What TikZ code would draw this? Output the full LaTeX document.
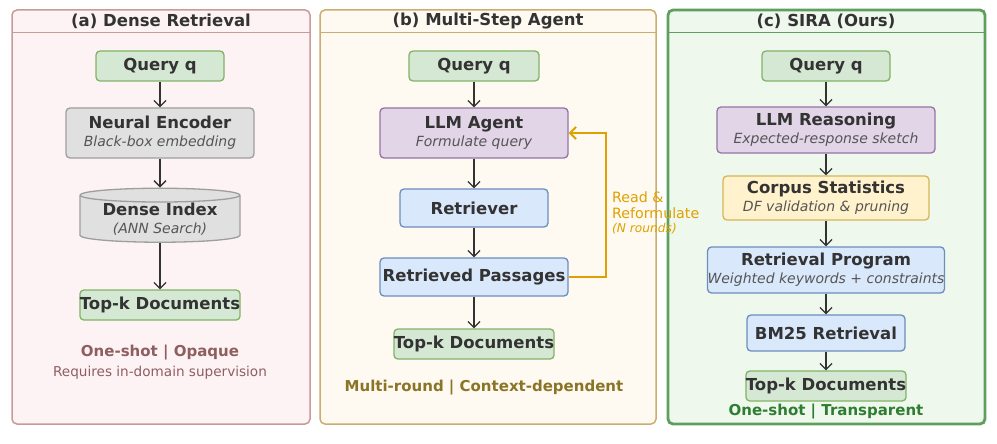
\documentclass[tikz,border=0pt]{standalone}
\usepackage{fontspec}
\setmainfont{DejaVu Sans}
\usetikzlibrary{shapes.geometric,arrows.meta}
\definecolor{gF}{HTML}{D5E8D4}\definecolor{gB}{HTML}{82B366}
\definecolor{kF}{HTML}{E0E0E0}\definecolor{kB}{HTML}{9E9E9E}
\definecolor{pF}{HTML}{E1D5E7}\definecolor{pB}{HTML}{9673A6}
\definecolor{bF}{HTML}{DAE8FC}\definecolor{bB}{HTML}{6C8EBF}
\definecolor{yF}{HTML}{FFF2CC}\definecolor{yB}{HTML}{D6B656}
\definecolor{aF}{HTML}{FDF3F4}\definecolor{aB}{HTML}{C99A9A}\definecolor{aT}{HTML}{8E5E60}
\definecolor{cbF}{HTML}{FEF9F1}\definecolor{cbB}{HTML}{CBAE6E}\definecolor{bT}{HTML}{8A7426}
\definecolor{ccF}{HTML}{EEF8EC}\definecolor{ccB}{HTML}{5E9E5E}\definecolor{cT}{HTML}{2E7D32}
\definecolor{orn}{HTML}{E0A000}\definecolor{txt}{HTML}{333333}\definecolor{sub}{HTML}{555555}
\tikzset{
 bx/.style={draw, rounded corners=4pt, line width=1.3pt, align=center, text=txt, inner sep=0pt, font=\fontsize{16.5}{18}\selectfont\bfseries},
 G/.style={bx, fill=gF, draw=gB}, K/.style={bx, fill=kF, draw=kB},
 P/.style={bx, fill=pF, draw=pB}, B/.style={bx, fill=bF, draw=bB}, Y/.style={bx, fill=yF, draw=yB},
 ar/.style={-{Straight Barb[length=6pt,width=12pt]}, line width=1.3pt, draw=txt},
 ttl/.style={font=\fontsize{16.5}{18}\selectfont\bfseries, text=txt},
}
\newcommand{\sbt}[1]{\\[0pt]{\fontsize{14}{16}\selectfont\mdseries\itshape\color{sub}#1}}
\begin{document}
\begin{tikzpicture}[x=1pt,y=-1pt]
\useasboundingbox (0,0) rectangle (997,444);
% panels
\draw[aB, fill=aF, line width=1.5pt, rounded corners=5pt] (12,10) rectangle (310,424);
\draw[aB, line width=1pt] (12,33) -- (310,33);
\node[ttl] (ta) at (161,21) {(a) Dense Retrieval};
\draw[cbB, fill=cbF, line width=1.5pt, rounded corners=5pt] (320,10) rectangle (656,424);
\draw[cbB, line width=1pt] (320,33) -- (656,33);
\node[ttl] (tb) at (488,21) {(b) Multi-Step Agent};
\draw[ccB, fill=ccF, line width=2.8pt, rounded corners=5pt] (668,10) rectangle (985,424);
\draw[ccB, line width=1pt] (668,33) -- (985,33);
\node[ttl] (tc) at (826,21) {(c) SIRA (Ours)};
% (a)
\node[G, minimum width=128, minimum height=30] (qa) at (160,66) {Query q};
\node[K, minimum width=188, minimum height=50] (ne) at (160,133) {Neural Encoder\sbt{Black-box embedding}};
\node[cylinder, shape border rotate=90, aspect=0.12, draw=kB, fill=kF, line width=1.3pt, minimum width=160, minimum height=54, inner sep=0pt, align=center, text=txt, font=\fontsize{16.5}{18}\selectfont\bfseries] (di) at (160,219) {Dense Index\sbt{(ANN Search)}};
\node[G, minimum width=158, minimum height=30] (ka) at (160,305) {Top-k Documents};
\draw[ar] (qa) -- (ne); \draw[ar] (ne) -- (di); \draw[ar] (di) -- (ka);
\node[font=\fontsize{15}{17}\selectfont\bfseries, text=aT] (la1) at (160,353) {One-shot | Opaque};
\node[font=\fontsize{13.6}{16}\selectfont, text=aT] (la2) at (160,373) {Requires in-domain supervision};
% (b)
\node[G, minimum width=130, minimum height=30] (qb) at (474,66) {Query q};
\node[P, minimum width=188, minimum height=50] (ag) at (474,133) {LLM Agent\sbt{Formulate query}};
\node[B, minimum width=148, minimum height=38] (rt) at (474,208) {Retriever};
\node[B, minimum width=188, minimum height=38] (rp) at (474,277) {Retrieved Passages};
\node[G, minimum width=158, minimum height=30] (kb) at (474,344) {Top-k Documents};
\draw[ar] (qb) -- (ag); \draw[ar] (ag) -- (rt); \draw[ar] (rt) -- (rp); \draw[ar] (rp) -- (kb);
\coordinate (f1) at (606,277); \coordinate (f2) at (606,133);
\draw[-{Straight Barb[length=6pt,width=12pt]}, line width=2pt, draw=orn] (rp.east) -- (f1) -- (f2) -- (ag.east);
\node[anchor=west, align=left, text=orn, font=\fontsize{14.2}{16}\selectfont, inner sep=0pt] (rl) at (612,213) {Read \&\\Reformulate\\[-2pt]{\fontsize{12.2}{14}\selectfont\itshape (N rounds)}};
\node[font=\fontsize{15}{17}\selectfont\bfseries, text=bT] (lb) at (484,388) {Multi-round | Context-dependent};
% (c)
\node[G, minimum width=128, minimum height=30] (qc) at (826,66) {Query q};
\node[P, minimum width=218, minimum height=46] (lr) at (826,130) {LLM Reasoning\sbt{Expected-response sketch}};
\node[Y, minimum width=206, minimum height=44] (cs) at (826,198) {Corpus Statistics\sbt{DF validation \& pruning}};
\node[B, minimum width=236, minimum height=46] (pr) at (826,270) {Retrieval Program\sbt{Weighted keywords + constraints}};
\node[B, minimum width=158, minimum height=36] (bm) at (826,333) {BM25 Retrieval};
\node[G, minimum width=158, minimum height=30] (kc) at (826,386) {Top-k Documents};
\draw[ar] (qc) -- (lr); \draw[ar] (lr) -- (cs); \draw[ar] (cs) -- (pr); \draw[ar] (pr) -- (bm); \draw[ar] (bm) -- (kc);
\node[font=\fontsize{15}{17}\selectfont\bfseries, text=cT] (lc) at (826,412) {One-shot | Transparent};
\end{tikzpicture}
\end{document}
